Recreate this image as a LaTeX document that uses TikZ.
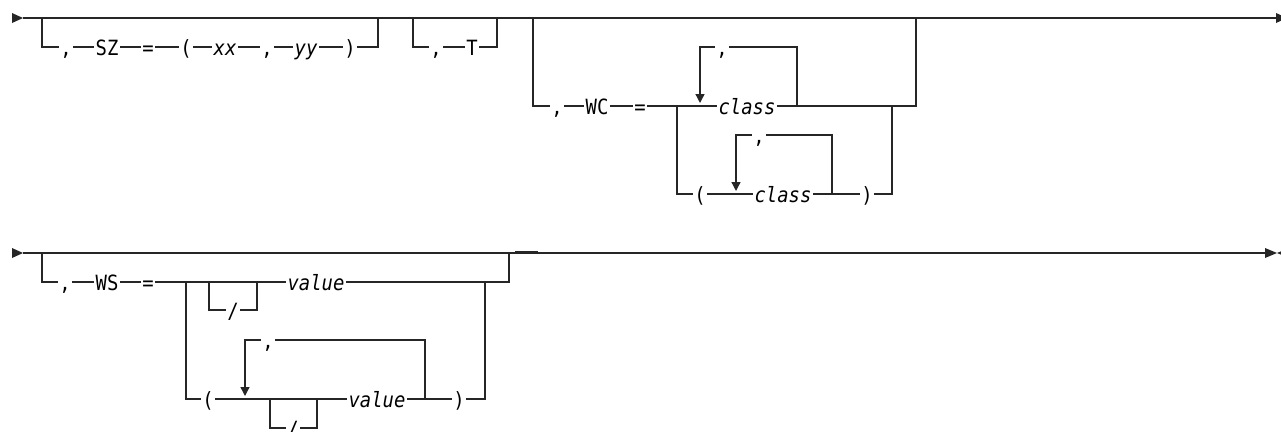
\documentclass[tikz,border=0pt]{standalone}
\usepackage{fontspec}
\setmonofont{DejaVu Sans Mono}[FakeStretch=0.9]
\usetikzlibrary{arrows.meta}

\begin{document}
\begin{tikzpicture}[
  x=1pt, y=-1pt,
  rail/.style = {draw=black!85, line width=1.3pt},
  rep/.style  = {rail, -{Triangle[width=9pt,length=9pt]}},
  kw/.style   = {fill=white, inner xsep=1.5pt, inner ysep=1pt,
                 text height=15pt, text depth=4pt,
                 anchor=base, yshift=-8pt,
                 font=\fontsize{21}{21}\selectfont\ttfamily},
  vr/.style   = {kw, font=\fontsize{21}{21}\selectfont\ttfamily\itshape}
]
  \useasboundingbox (0,0) rectangle (1281,431);

  % first line
  \fill[black!85] (12,13) -- (23,18) -- (12,23) -- cycle;
  \draw[rail] (23,18) -- (1276,18);
  \fill[black!85] (1276,13) -- (1287,18) -- (1276,23) -- cycle;

  \draw[rail] (42,18) |- (378,47) -- (378,18);
  \draw[rail] (413,18) |- (497,47) -- (497,18);
  \draw[rail] (533,18) |- (916,106) -- (916,18);
  \draw[rail] (677,106) |- (892,194) -- (892,106);
  \draw[rep]  (797,106) |- (700,47) -- (700,103);
  \draw[rep]  (832,194) |- (736,135) -- (736,191);

  \node[kw] (c1)   at (66,47)   {,};
  \node[kw] (sz)   at (107,47)  {SZ};
  \node[kw] (eq1)  at (148,47)  {=};
  \node[kw] (lp1)  at (186,47)  {(};
  \node[vr] (xx)   at (225,47)  {xx};
  \node[kw] (c2)   at (267,47)  {,};
  \node[vr] (yy)   at (306,47)  {yy};
  \node[kw] (rp1)  at (350,47)  {)};
  \node[kw] (c3)   at (436,47)  {,};
  \node[kw] (t)    at (472,47)  {T};
  \node[kw] (c4)   at (557,106) {,};
  \node[kw] (wc)   at (597,106) {WC};
  \node[kw] (eq2)  at (640,106) {=};
  \node[kw] (c5)   at (722,47)  {,};
  \node[vr] (cls1) at (747,106) {class};
  \node[kw] (lp2)  at (700,194) {(};
  \node[kw] (c6)   at (759,135) {,};
  \node[vr] (cls2) at (783,194) {class};
  \node[kw] (rp2)  at (867,194) {)};

  % second line
  \fill[black!85] (12,248) -- (23,253) -- (12,258) -- cycle;
  \draw[rail] (23,253) -- (1265,253);
  \draw[rail, line width=2.2pt] (515,252.5) -- (538,252.5);
  \fill[black!85] (1265,248) -- (1277,253) -- (1265,258) -- cycle;
  \fill[black!85] (1289,248) -- (1277,253) -- (1289,258) -- cycle;

  \draw[rail] (42,253) |- (509,282) -- (509,253);
  \draw[rail] (186,282) |- (485,399) -- (485,282);
  \draw[rail] (209,282) |- (257,310) -- (257,282);
  \draw[rep]  (425,399) |- (245,340) -- (245,396);
  \draw[rail] (270,399) |- (317,428) -- (317,399);

  \node[kw] (c7)   at (65,282)  {,};
  \node[kw] (ws)   at (107,282) {WS};
  \node[kw] (eq3)  at (148,282) {=};
  \node[kw] (sl1)  at (233,310) {/};
  \node[vr] (val1) at (316,282) {value};
  \node[kw] (lp3)  at (208,399) {(};
  \node[kw] (c8)   at (268,340) {,};
  \node[kw] (sl2)  at (293,428) {/};
  \node[vr] (val2) at (377,399) {value};
  \node[kw] (rp3)  at (459,399) {)};
\end{tikzpicture}
\end{document}
